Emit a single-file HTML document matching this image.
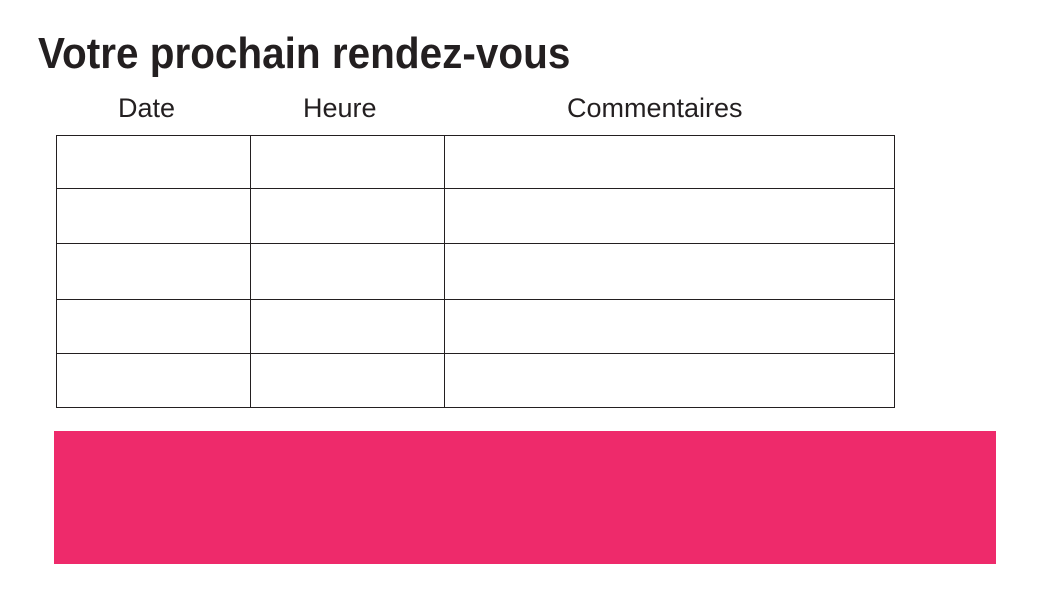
<!DOCTYPE html>
<html><head><meta charset="utf-8"><style>
html,body{margin:0;padding:0;background:#fff;width:1050px;height:600px;overflow:hidden;font-family:"Liberation Sans",sans-serif;}
.t{position:absolute;left:38px;top:32px;font-size:44px;line-height:1;font-weight:bold;color:#231f20;white-space:nowrap;transform:scaleX(0.92);transform-origin:0 0;}
.h{position:absolute;top:93px;font-size:27px;color:#231f20;white-space:nowrap;}
.ln{position:absolute;background:#231f20;}
.pink{position:absolute;left:54px;top:431px;width:942px;height:133px;background:#ee2a6b;}
</style></head><body>
<div class="t">Votre prochain rendez-vous</div>
<div class="h" style="left:118px">Date</div>
<div class="h" style="left:303px">Heure</div>
<div class="h" style="left:567px">Commentaires</div>
<div class="ln" style="left:56px;top:135px;width:839px;height:1px"></div>
<div class="ln" style="left:56px;top:188px;width:839px;height:1px"></div>
<div class="ln" style="left:56px;top:243px;width:839px;height:1px"></div>
<div class="ln" style="left:56px;top:299px;width:839px;height:1px"></div>
<div class="ln" style="left:56px;top:353px;width:839px;height:1px"></div>
<div class="ln" style="left:56px;top:407px;width:839px;height:1px"></div>
<div class="ln" style="left:56px;top:135px;width:1px;height:273px"></div>
<div class="ln" style="left:250px;top:135px;width:1px;height:273px"></div>
<div class="ln" style="left:444px;top:135px;width:1px;height:273px"></div>
<div class="ln" style="left:894px;top:135px;width:1px;height:273px"></div>
<div class="pink"></div>
</body></html>
